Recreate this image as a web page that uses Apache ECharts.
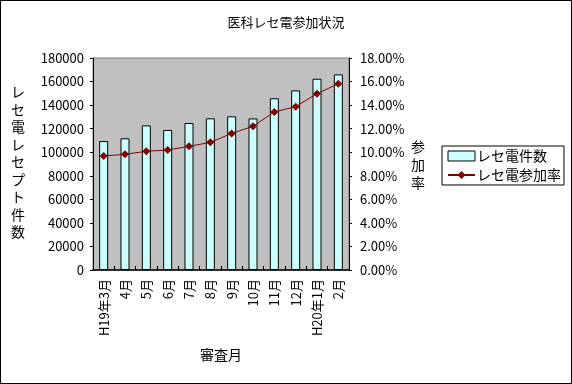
<!DOCTYPE html>
<html><head><meta charset="utf-8">
<script src="https://cdn.jsdelivr.net/npm/echarts@6/dist/echarts.min.js"></script>
<style>html,body{margin:0;padding:0;background:#fff}#c{width:570px;height:382px;border:1px solid #000}</style>
</head><body><div id="c"></div>
<script>
const categories = ['H19年3月','4月','5月','6月','7月','8月','9月','10月','11月','12月','H20年1月','2月'];
const counts = [109500, 111800, 122800, 118900, 124800, 128800, 130500, 128700, 145800, 152500, 162400, 166100];
const rates = [9.68, 9.82, 10.08, 10.19, 10.50, 10.84, 11.60, 12.20, 13.42, 13.87, 14.97, 15.82];
const seriesNames = ['レセ電件数', 'レセ電参加率'];
const titleText = '医科レセ電参加状況';
const leftName = 'レセ電レセプト件数';
const rightName = '参加率';
const xName = '審査月';

const FONT = '"Noto Sans CJK JP", sans-serif';
const chart = echarts.init(document.getElementById('c'));
chart.setOption({
  animation: false,
  textStyle: { fontFamily: FONT, color: '#000' },
  title: { text: titleText, left: 'center', top: 10, textStyle: { fontSize: 13, fontWeight: 'normal', color: '#000', fontFamily: FONT } },
  grid: { left: 92, right: 222, top: 57, bottom: 113, show: true, backgroundColor: '#c0c0c0', borderColor: '#808080', borderWidth: 1 },
  legend: {
    orient: 'vertical', left: 441, top: 145, padding: [3, 3, 3, 5], itemGap: 5,
    itemWidth: 27, itemHeight: 10, borderColor: '#000', borderWidth: 1, backgroundColor: '#fff',
    textStyle: { fontSize: 14, fontFamily: FONT, color: '#000', padding: [0, 0, 0, -3] },
    data: [{ name: seriesNames[0], icon: 'rect', itemStyle: { borderWidth: 1 } }, { name: seriesNames[1] }]
  },
  xAxis: {
    type: 'category', data: categories,
    name: xName, nameLocation: 'middle', nameGap: 78, nameTextStyle: { fontSize: 14, color: '#000' },
    axisLine: { lineStyle: { color: '#000', width: 1.5 } },
    axisTick: { show: true, inside: true, length: 4, lineStyle: { color: '#000' } },
    axisLabel: { rotate: 90, interval: 0, fontSize: 13, color: '#000', margin: 9 }
  },
  yAxis: [
    { type: 'value', min: 0, max: 180000, interval: 20000, splitLine: { show: false },
      axisLine: { show: true, lineStyle: { color: '#000' } },
      axisTick: { show: true, length: 3, lineStyle: { color: '#000' } },
      axisLabel: { fontSize: 13, color: '#000', margin: 9, formatter: v => String(v) } },
    { type: 'value', min: 0, max: 18, interval: 2, splitLine: { show: false },
      axisLine: { show: true, lineStyle: { color: '#000' } },
      axisTick: { show: true, length: 3, lineStyle: { color: '#000' } },
      axisLabel: { fontSize: 13, color: '#000', margin: 11, formatter: v => v.toFixed(2) + '%' } }
  ],
  graphic: [
    { type: 'text', left: 10, top: 82, style: { text: leftName.split('').join('\n'), font: '14px ' + FONT, lineHeight: 17.5, fill: '#000', align: 'center' } },
    { type: 'text', left: 410, top: 137, style: { text: rightName.split('').join('\n'), font: '14px ' + FONT, lineHeight: 18, fill: '#000', align: 'center' } }
  ],
  series: [
    { name: seriesNames[0], type: 'bar', data: counts, barWidth: 9, yAxisIndex: 0,
      itemStyle: { color: '#ccffff', borderColor: '#000', borderWidth: 1 } },
    { name: seriesNames[1], type: 'line', data: rates, yAxisIndex: 1, symbol: 'diamond', symbolSize: 8,
      lineStyle: { color: '#800000', width: 1 }, itemStyle: { color: '#800000' } }
  ]
});
</script></body></html>
